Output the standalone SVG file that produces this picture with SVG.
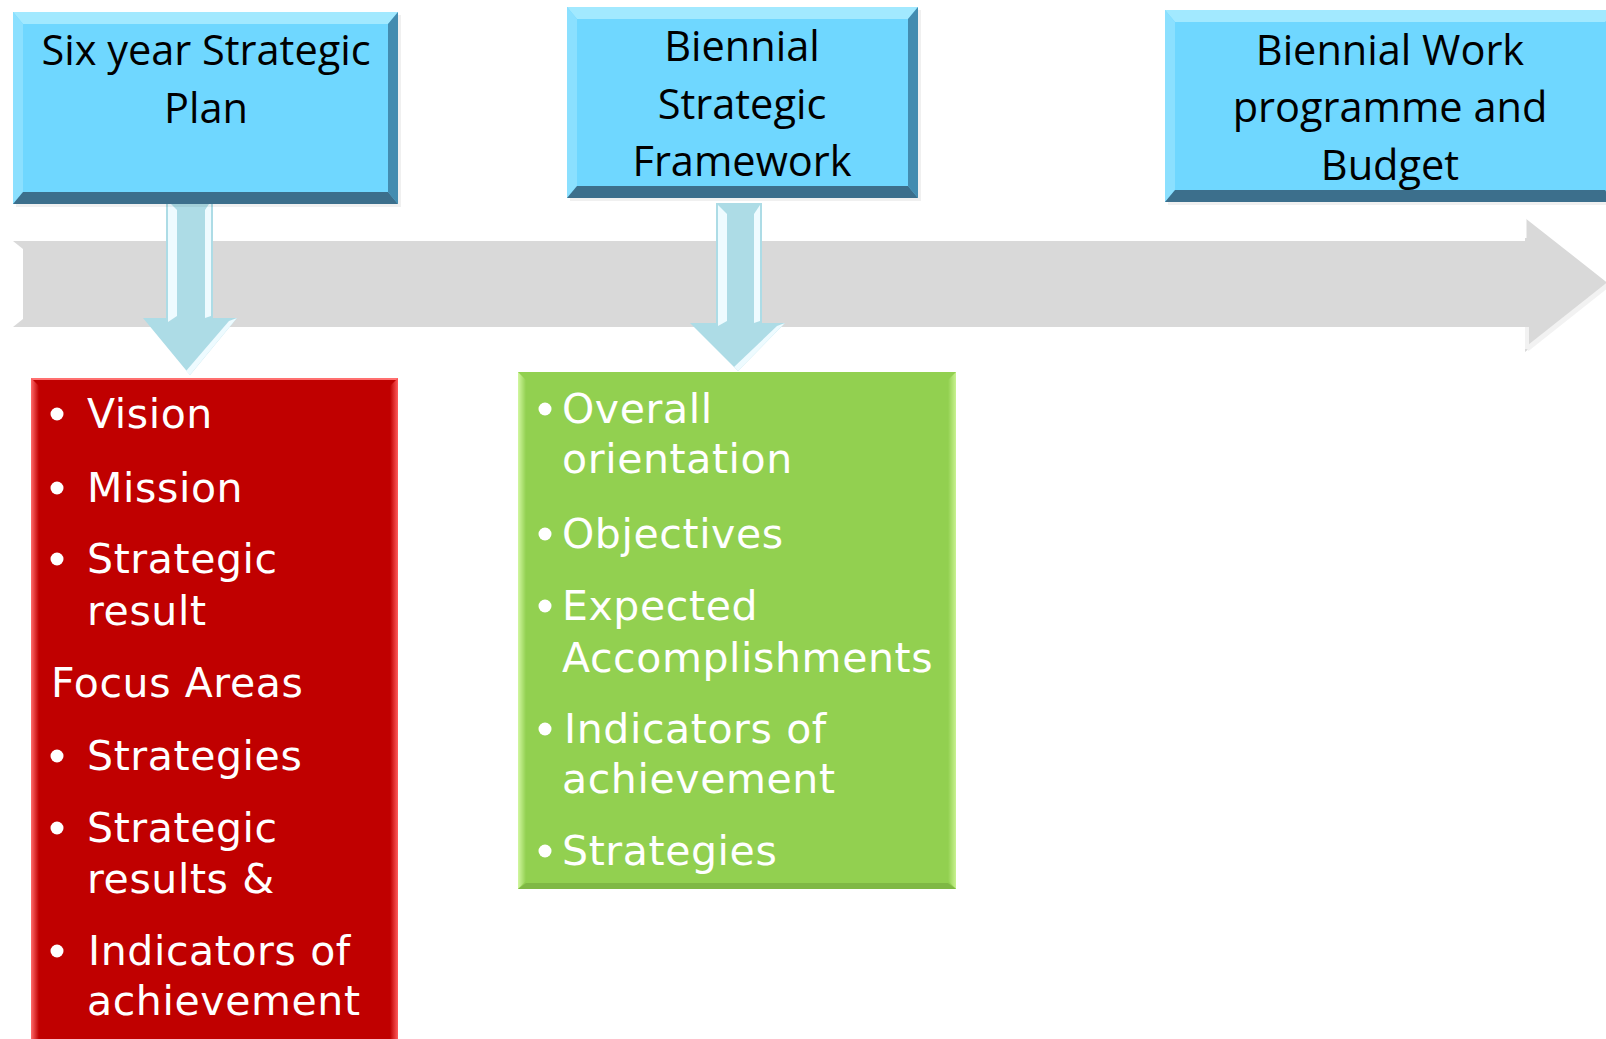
<svg xmlns="http://www.w3.org/2000/svg" width="1606" height="1039" viewBox="0 0 1606 1039">
<defs>
<style>
.hdr{font-family:"Open Sans","Liberation Sans",sans-serif;font-size:41.5px;fill:#000;text-anchor:middle}
.body{font-family:"DejaVu Sans","Liberation Sans",sans-serif;font-size:41px;fill:#fff;letter-spacing:0.6px}
.bfill{fill:#6fd7ff}
.btop{fill:#a2e9ff}
.bleft{fill:#8be0ff}
.bright{fill:#438cb0}
.bbot{fill:#3c6f8c}
.darr{fill:#addce6}
.hl{fill:#eefbff}
.bul{fill:#fff}
</style>
<linearGradient id="redL" x1="0" x2="1" y1="0" y2="0"><stop offset="0" stop-color="#ff6a6a"/><stop offset="1" stop-color="#c00000"/></linearGradient>
<linearGradient id="redR" x1="1" x2="0" y1="0" y2="0"><stop offset="0" stop-color="#ff5c5c"/><stop offset="1" stop-color="#c00000"/></linearGradient>
<linearGradient id="grL" x1="0" x2="1" y1="0" y2="0"><stop offset="0" stop-color="#d2f7a0"/><stop offset="1" stop-color="#92d050"/></linearGradient>
<linearGradient id="grR" x1="1" x2="0" y1="0" y2="0"><stop offset="0" stop-color="#c8f290"/><stop offset="1" stop-color="#92d050"/></linearGradient>
</defs>

<g id="timeline">
<polygon points="13,241 1525,241 1525,218 1609,284 1525,352 1525,327 13,327" fill="#d9d9d9"/>
<polygon points="13,241 23,249 23,319 13,327" fill="#ffffff"/>
<polyline points="1525,238 1525,218" stroke="#ffffff" stroke-width="3" fill="none"/>
<polyline points="1527,349 1609,284" stroke="#f2f2f2" stroke-width="5" fill="none"/>
<polyline points="1527,327 1527,349" stroke="#f2f2f2" stroke-width="4" fill="none"/>
</g>

<g id="connectors">
<g id="arrow1">
<polygon class="darr" points="166,199 213,199 213,318 237,318 190,375 143,318 166,318"/>
<polygon class="hl" points="168,201 177,210 177,316 168,322"/>
<polygon class="hl" points="205,210 211,201 211,316 205,318"/>
<polygon class="hl" points="237,318 190,375 186,371 229,321"/>
</g>
<g id="arrow2">
<polygon class="darr" points="716,203 762,203 762,323 785,323 738,371 690,323 716,323"/>
<polygon class="hl" points="718,205 727,214 727,321 718,326"/>
<polygon class="hl" points="754,214 760,205 760,321 754,323"/>
<polygon class="hl" points="785,323 738,371 734,367 777,326"/>
</g>
</g>

<g id="box1">
<rect x="16" y="15" width="385" height="192" fill="#000" opacity="0.06"/>
<rect class="bfill" x="13" y="12" width="385" height="192"/>
<polygon class="btop" points="13,12 398,12 388,24 23,24"/>
<polygon class="bleft" points="13,12 23,24 23,192 13,204"/>
<polygon class="bright" points="398,12 398,204 388,192 388,24"/>
<polygon class="bbot" points="13,204 398,204 388,192 23,192"/>
<text class="hdr" x="206" y="65">Six year Strategic</text>
<text class="hdr" x="206" y="123">Plan</text>
</g>

<g id="box2">
<rect x="570" y="10" width="351" height="191" fill="#000" opacity="0.06"/>
<rect class="bfill" x="567" y="7" width="351" height="191"/>
<polygon class="btop" points="567,7 918,7 908,19 577,19"/>
<polygon class="bleft" points="567,7 577,19 577,186 567,198"/>
<polygon class="bright" points="918,7 918,198 908,186 908,19"/>
<polygon class="bbot" points="567,198 918,198 908,186 577,186"/>
<text class="hdr" x="742" y="61">Biennial</text>
<text class="hdr" x="742" y="119">Strategic</text>
<text class="hdr" x="742" y="176">Framework</text>
</g>

<g id="box3">
<rect x="1168" y="13" width="450" height="192" fill="#000" opacity="0.06"/>
<rect class="bfill" x="1165" y="10" width="450" height="192"/>
<polygon class="btop" points="1165,10 1615,10 1605,22 1175,22"/>
<polygon class="bleft" points="1165,10 1175,22 1175,190 1165,202"/>
<polygon class="bbot" points="1165,202 1615,202 1605,190 1175,190"/>
<text class="hdr" x="1390" y="65">Biennial Work</text>
<text class="hdr" x="1390" y="122">programme and</text>
<text class="hdr" x="1390" y="180">Budget</text>
</g>

<g id="box-red">
<rect x="31" y="378" width="367" height="670" fill="#c00000"/>
<rect x="31" y="378" width="367" height="2" fill="#ff7070"/>
<polygon points="31,378 39,386 39,1048 31,1048" fill="url(#redL)"/>
<polygon points="398,378 390,386 390,1048 398,1048" fill="url(#redR)"/>
<circle class="bul" cx="57" cy="414" r="6.5"/>
<text class="body" x="87" y="428">Vision</text>
<circle class="bul" cx="57" cy="488" r="6.5"/>
<text class="body" x="87" y="502">Mission</text>
<circle class="bul" cx="57" cy="559" r="6.5"/>
<text class="body" x="87" y="573">Strategic</text>
<text class="body" x="87" y="625">result</text>
<text class="body" x="51" y="697">Focus Areas</text>
<circle class="bul" cx="57" cy="756" r="6.5"/>
<text class="body" x="87" y="770">Strategies</text>
<circle class="bul" cx="57" cy="828" r="6.5"/>
<text class="body" x="87" y="842">Strategic</text>
<text class="body" x="87" y="893">results &amp;</text>
<circle class="bul" cx="57" cy="951" r="6.5"/>
<text class="body" x="88" y="965">Indicators of</text>
<text class="body" x="87" y="1015">achievement</text>
</g>

<g id="box-green">
<rect x="518" y="372" width="438" height="517" fill="#92d050"/>
<polygon points="518,372 526,380 526,881 518,889" fill="url(#grL)"/>
<polygon points="956,372 948,380 948,881 956,889" fill="url(#grR)"/>
<polygon points="518,889 956,889 948,883 526,883" fill="#7fb844"/>
<circle class="bul" cx="545" cy="409" r="6.5"/>
<text class="body" x="562" y="423">Overall</text>
<text class="body" x="562" y="473">orientation</text>
<circle class="bul" cx="545" cy="534" r="6.5"/>
<text class="body" x="562" y="548">Objectives</text>
<circle class="bul" cx="545" cy="606" r="6.5"/>
<text class="body" x="562" y="620">Expected</text>
<text class="body" x="562" y="672">Accomplishments</text>
<circle class="bul" cx="545" cy="729" r="6.5"/>
<text class="body" x="564" y="743">Indicators of</text>
<text class="body" x="562" y="793">achievement</text>
<circle class="bul" cx="545" cy="851" r="6.5"/>
<text class="body" x="562" y="865">Strategies</text>
</g>
</svg>
